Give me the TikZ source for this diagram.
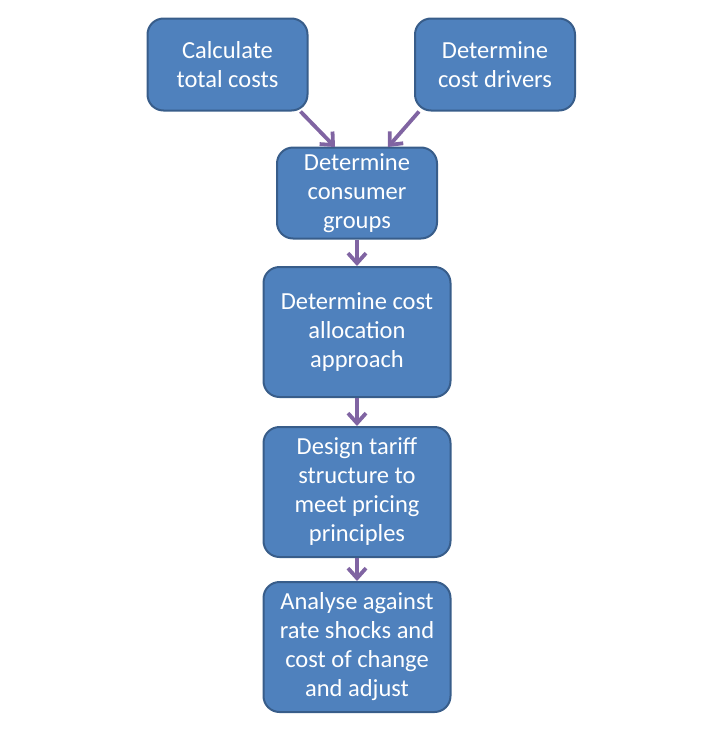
\documentclass[tikz,border=0pt]{standalone}
\usepackage{fontspec}
\setmainfont{Carlito}
\usetikzlibrary{arrows.meta}
\definecolor{boxfill}{HTML}{4F81BD}
\definecolor{boxline}{HTML}{385D8A}
\definecolor{arrowc}{HTML}{8064A2}
\begin{document}
\begin{tikzpicture}[x=1pt,y=1pt,
  flowbox/.style={draw=boxline, line width=2pt, fill=boxfill, rounded corners=16pt,
    text=white, align=center, font=\fontsize{24.5}{29}\selectfont, inner sep=0pt, anchor=center},
  flowarrow/.style={draw=arrowc, line width=3.8pt, -{Straight Barb[length=10pt,width=18pt,line width=3.8pt]}}]
\useasboundingbox (0,0) rectangle (720,-734);
\node[flowbox, minimum width=160, minimum height=92] (a) at (227.5,-64.5) {Calculate\\total costs};
\node[flowbox, minimum width=160, minimum height=92] (b) at (495,-64.5) {Determine\\cost drivers};
\node[flowbox, minimum width=160, minimum height=91] (c) at (357,-193) {Determine\\consumer\\groups};
\node[flowbox, minimum width=187, minimum height=130] (d) at (357,-332) {Determine cost\\allocation\\approach};
\node[flowbox, minimum width=187, minimum height=130] (e) at (357,-492) {Design tariff\\structure to\\meet pricing\\principles};
\node[flowbox, minimum width=187, minimum height=130] (f) at (357,-647) {Analyse against\\rate shocks and\\cost of change\\and adjust};
\draw[flowarrow] (a.south east) ++(-8,0) coordinate (a1) -- (335,-147);
\draw[flowarrow] (b.south west) ++(5,0) coordinate (b1) -- (388,-147);
\draw[flowarrow] (c.south) -- (d.north);
\draw[flowarrow] (d.south) -- (e.north);
\draw[flowarrow] (e.south) -- (f.north);
\end{tikzpicture}
\end{document}
